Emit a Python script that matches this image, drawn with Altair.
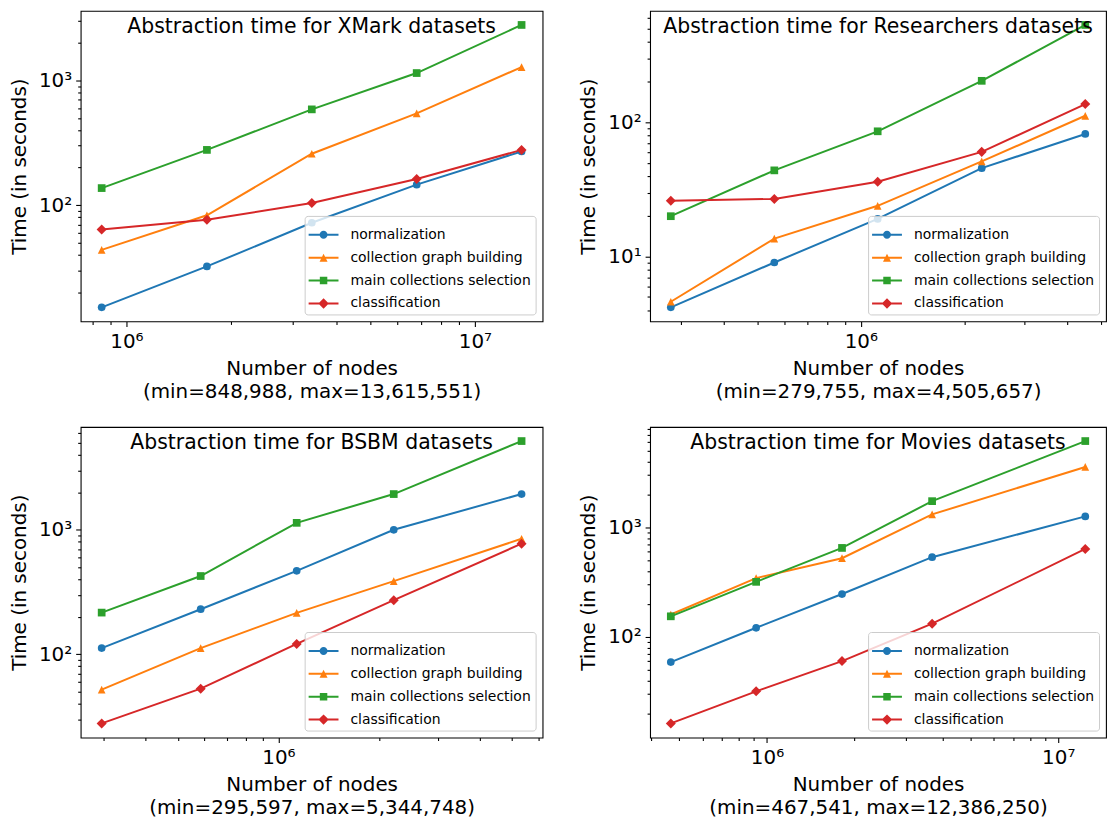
import math
import altair as alt
import pandas as pd

# ---------------- data ----------------
series_names = ["normalization", "collection graph building",
                "main collections selection", "classification"]
series_colors = ["#1f77b4", "#ff7f0e", "#2ca02c", "#d62728"]

panel_titles = ["Abstraction time for XMark datasets",
                "Abstraction time for Researchers datasets",
                "Abstraction time for BSBM datasets",
                "Abstraction time for Movies datasets"]
x_title_lines = [["Number of nodes", "(min=848,988, max=13,615,551)"],
                 ["Number of nodes", "(min=279,755, max=4,505,657)"],
                 ["Number of nodes", "(min=295,597, max=5,344,748)"],
                 ["Number of nodes", "(min=467,541, max=12,386,250)"]]
y_title = "Time (in seconds)"

xmark_nodes = [848988, 1702000, 3404000, 6808000, 13615551]
xmark_normalization = [15.2, 32.3, 72.3, 146, 269]
xmark_graph = [43.8, 83, 258, 543, 1276]
xmark_selection = [137, 277, 585, 1143, 2775]
xmark_classification = [63.7, 76.4, 104, 162, 277]

researchers_nodes = [279755, 560000, 1120000, 2250000, 4505657]
researchers_normalization = [4.19, 9.04, 19.1, 45.6, 82.0]
researchers_graph = [4.61, 13.6, 23.9, 51.2, 112]
researchers_selection = [20.0, 43.9, 85.8, 204, 532]
researchers_classification = [26.1, 26.9, 36.1, 60.3, 137]

bsbm_nodes = [295597, 585000, 1134000, 2214000, 5344748]
bsbm_normalization = [112, 230, 468, 1000, 1936]
bsbm_graph = [51.9, 112, 215, 387, 847]
bsbm_selection = [216, 425, 1137, 1936, 5163]
bsbm_classification = [27.8, 52.9, 121, 272, 773]

movies_nodes = [467541, 918000, 1810000, 3690000, 12386250]
movies_normalization = [58.8, 121, 246, 534, 1259]
movies_graph = [160, 344, 523, 1313, 3564]
movies_selection = [154, 318, 649, 1735, 6140]
movies_classification = [16.2, 31.8, 60.1, 132, 635]

# ---------------- styles ----------------
FONT = "DejaVu Sans"
marker_shapes = ["circle", "M0,-1L1,1L-1,1Z", "square", "M-1.3,0L0,-1.3L1.3,0L0,1.3Z"]
_line = "M-1,-0.067H1V0.067H-1Z"
legend_shapes = [
    _line + "M0.267,0A0.267,0.267,0,1,1,-0.267,0A0.267,0.267,0,1,1,0.267,0Z",
    _line + "M0,-0.267L0.267,0.267L-0.267,0.267Z",
    _line + "M-0.25,-0.25H0.25V0.25H-0.25Z",
    _line + "M-0.35,0L0,-0.35L0.35,0L0,0.35Z",
]

MAJOR = "abs(log(datum.value)/LN10 - round(log(datum.value)/LN10)) < 0.001"
EXP = "round(log(datum.value)/LN10)"
LABEL_EXPR = (f"{MAJOR} ? '10' + substring('\u2070\u00b9\u00b2\u00b3\u2074\u2075\u2076\u2077\u2078\u2079', "
              f"{EXP}, {EXP} + 1) : ''")


def log_domain(vals):
    lo, hi = math.log10(min(vals)), math.log10(max(vals))
    m = 0.05 * (hi - lo)
    return [10 ** (lo - m), 10 ** (hi + m)]


def log_ticks(dom):
    out = []
    for k in range(math.floor(math.log10(dom[0])), math.ceil(math.log10(dom[1])) + 1):
        for m in range(1, 10):
            v = m * 10.0 ** k
            if dom[0] <= v <= dom[1]:
                out.append(v)
    return out


def log_axis(values, title, **kw):
    return alt.Axis(values=values, title=title, labelExpr=LABEL_EXPR,
                    tickSize={"condition": {"test": MAJOR, "value": 5}, "value": 3},
                    labelFontSize={"condition": {"test": MAJOR, "value": 20}, "value": 0},
                    grid=False, domain=False, labelOverlap=False, labelFlush=False,
                    **kw)


def panel(nodes, series_values, title, xtitle, width, height):
    rows = []
    for name, vals in zip(series_names, series_values):
        for n, v in zip(nodes, vals):
            rows.append({"nodes": n, "time": v, "series": name})
    df = pd.DataFrame(rows)
    all_vals = [v for vals in series_values for v in vals]
    xdom = log_domain(nodes)
    ydom = log_domain(all_vals)

    x = alt.X("nodes:Q", scale=alt.Scale(type="log", domain=xdom, nice=False),
              axis=log_axis(log_ticks(xdom), xtitle, labelPadding=5, titlePadding=7,
                            titleLineHeight=23))
    y = alt.Y("time:Q", scale=alt.Scale(type="log", domain=ydom, nice=False),
              axis=log_axis(log_ticks(ydom), y_title, labelPadding=4, titlePadding=9))
    color_scale = alt.Scale(domain=series_names, range=series_colors)

    lines = alt.Chart(df).mark_line(strokeWidth=2).encode(
        x=x, y=y, color=alt.Color("series:N", scale=color_scale, legend=None))
    points = alt.Chart(df).mark_point(filled=True, size=60, opacity=1).encode(
        x=x, y=y,
        color=alt.Color("series:N", scale=color_scale, legend=None),
        shape=alt.Shape("series:N", scale=alt.Scale(domain=series_names, range=marker_shapes),
                        legend=None))
    leg = dict(title=None, orient="bottom-right", offset=7, padding=4,
               fillColor="rgba(255,255,255,0.8)", strokeColor="#cccccc", cornerRadius=3,
               labelFont=FONT, labelFontSize=14, labelColor="black", labelOffset=12,
               labelLimit=400, symbolSize=900, symbolOpacity=1, symbolStrokeWidth=0,
               rowPadding=1)
    legend_layer = alt.Chart(df).mark_point(filled=True, opacity=0).encode(
        x=x, y=y,
        color=alt.Color("series:N", scale=color_scale, legend=alt.Legend(**leg)),
        shape=alt.Shape("series:N", scale=alt.Scale(domain=series_names, range=legend_shapes),
                        legend=alt.Legend(**leg)))
    title_layer = alt.Chart(pd.DataFrame({"title": [title]})).mark_text(
        align="center", baseline="alphabetic", font=FONT, fontSize=20.5, color="black"
    ).encode(text="title:N", x=alt.value(width / 2), y=alt.value(22))
    return alt.layer(lines, points, legend_layer, title_layer).resolve_scale(
        color="independent", shape="independent").properties(width=width, height=height)


p1 = panel(xmark_nodes, [xmark_normalization, xmark_graph, xmark_selection, xmark_classification],
           panel_titles[0], x_title_lines[0], 464, 312)
p2 = panel(researchers_nodes, [researchers_normalization, researchers_graph,
                               researchers_selection, researchers_classification],
           panel_titles[1], x_title_lines[1], 458, 312)
p3 = panel(bsbm_nodes, [bsbm_normalization, bsbm_graph, bsbm_selection, bsbm_classification],
           panel_titles[2], x_title_lines[2], 464, 312)
p4 = panel(movies_nodes, [movies_normalization, movies_graph, movies_selection, movies_classification],
           panel_titles[3], x_title_lines[3], 458, 312)

chart = alt.vconcat(
    alt.hconcat(p1, p2, spacing=34),
    alt.hconcat(p3, p4, spacing=34),
    spacing=24,
).properties(padding={"left": 0, "top": 0, "right": 0, "bottom": 0}).configure(
    font=FONT
).configure_view(stroke="black", strokeWidth=1.1).configure_axis(
    labelFont=FONT, titleFont=FONT, titleFontSize=20,
    titleFontWeight="normal", labelColor="black", titleColor="black",
    tickColor="black", tickWidth=1.1)

chart.save("out.html", embed_options={"renderer": "svg", "actions": False})
